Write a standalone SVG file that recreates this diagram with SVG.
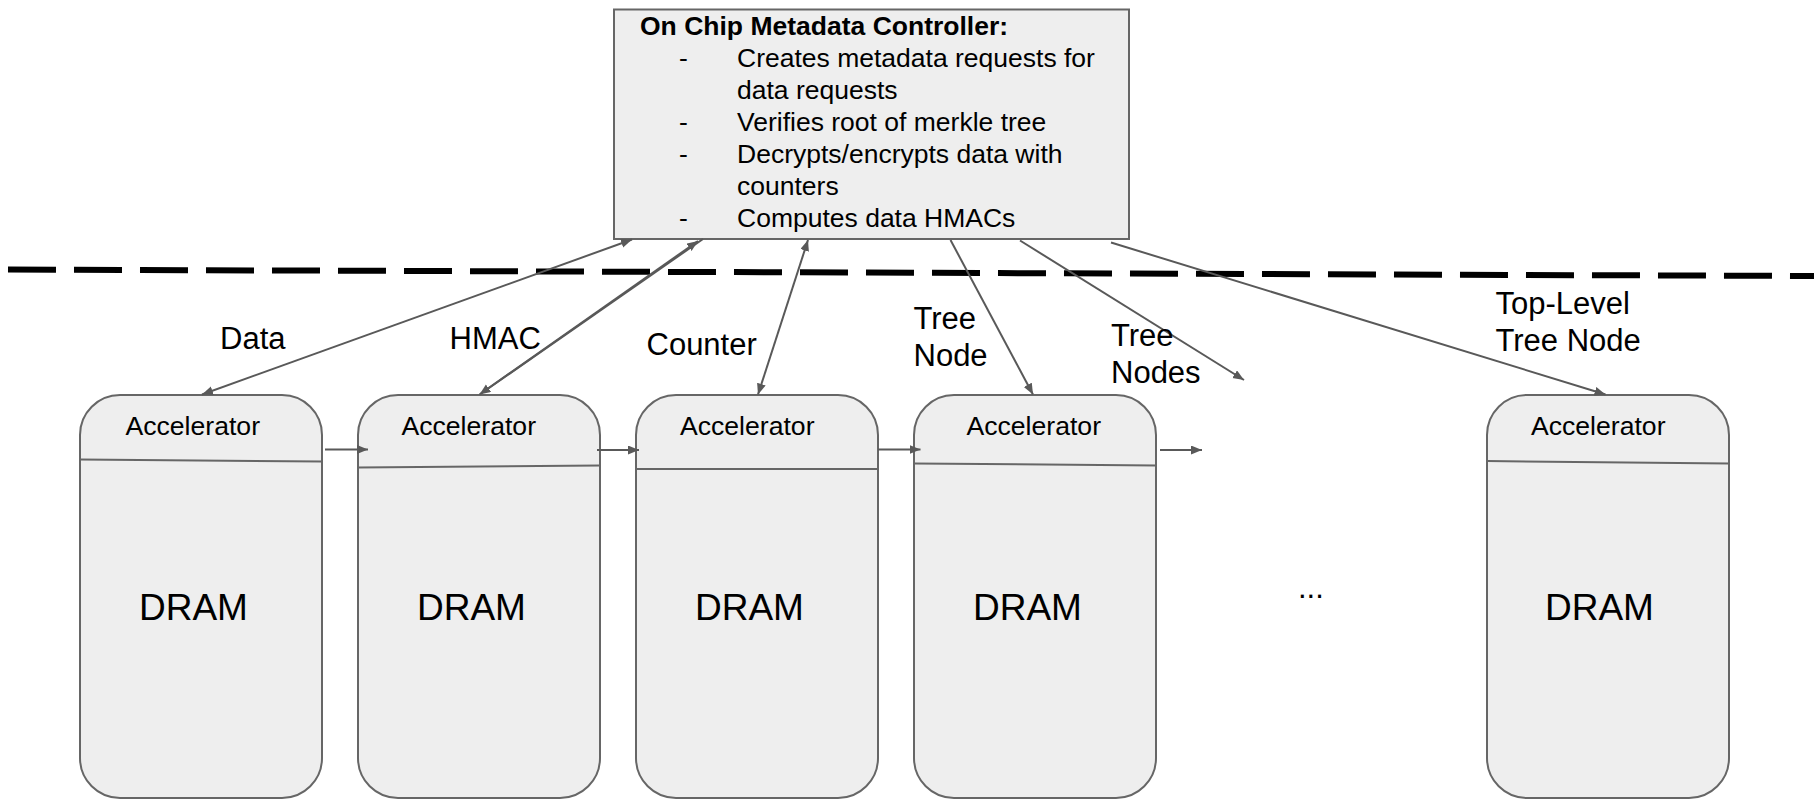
<svg xmlns="http://www.w3.org/2000/svg" width="1814" height="799" viewBox="0 0 1814 799">
<style>
.box{fill:#eeeeee;stroke:#666666;stroke-width:2}
.div{stroke:#666666;stroke-width:2;fill:none}
.con{stroke:#595959;stroke-width:2;fill:none}
.t{font-family:"Liberation Sans",Arial,sans-serif;fill:#000000}
.ctl{font-size:26.5px}
.acc{font-size:26.6px}
.dram{font-size:37px}
.lbl{font-size:31px}
</style>
<defs>
<marker id="ah" markerUnits="userSpaceOnUse" markerWidth="12" markerHeight="10" refX="11" refY="4.5" orient="auto-start-reverse">
<path d="M0,0 L11,4.5 L0,9 z" fill="#595959"/>
</marker>
</defs>
<rect width="1814" height="799" fill="#ffffff"/>

<g id="boundary">
<line x1="8" y1="269.5" x2="1814" y2="276" stroke="#000000" stroke-width="6" stroke-dasharray="48 18"/>
</g>

<g id="controller">
<rect class="box" x="614" y="9.5" width="515" height="229.5"/>
<text class="t ctl" x="640" y="35" font-weight="bold">On Chip Metadata Controller:</text>
<text class="t ctl" x="679" y="67">-</text>
<text class="t ctl" x="737" y="67">Creates metadata requests for</text>
<text class="t ctl" x="737" y="99">data requests</text>
<text class="t ctl" x="679" y="131">-</text>
<text class="t ctl" x="737" y="131">Verifies root of merkle tree</text>
<text class="t ctl" x="679" y="163">-</text>
<text class="t ctl" x="737" y="163">Decrypts/encrypts data with</text>
<text class="t ctl" x="737" y="195">counters</text>
<text class="t ctl" x="679" y="227">-</text>
<text class="t ctl" x="737" y="227">Computes data HMACs</text>
</g>

<g id="node1">
<rect class="box" x="80" y="395" width="242" height="403" rx="40" ry="40"/>
<line class="div" x1="80" y1="459.5" x2="322" y2="461.5"/>
<text class="t acc" x="125.5" y="435">Accelerator</text>
<text class="t dram" x="139" y="620">DRAM</text>
</g>
<g id="node2">
<rect class="box" x="358" y="395" width="242" height="403" rx="40" ry="40"/>
<line class="div" x1="358" y1="467.5" x2="600" y2="465.5"/>
<text class="t acc" x="401.5" y="435">Accelerator</text>
<text class="t dram" x="417" y="620">DRAM</text>
</g>
<g id="node3">
<rect class="box" x="636" y="395" width="242" height="403" rx="40" ry="40"/>
<line class="div" x1="636" y1="469" x2="878" y2="469"/>
<text class="t acc" x="680" y="435">Accelerator</text>
<text class="t dram" x="695" y="620">DRAM</text>
</g>
<g id="node4">
<rect class="box" x="914" y="395" width="242" height="403" rx="40" ry="40"/>
<line class="div" x1="914" y1="463.5" x2="1156" y2="465.5"/>
<text class="t acc" x="966.5" y="435">Accelerator</text>
<text class="t dram" x="973" y="620">DRAM</text>
</g>
<g id="node5">
<rect class="box" x="1487" y="395" width="242" height="403" rx="40" ry="40"/>
<line class="div" x1="1487" y1="461" x2="1729" y2="463.5"/>
<text class="t acc" x="1531" y="435">Accelerator</text>
<text class="t dram" x="1545" y="620">DRAM</text>
</g>

<g id="ellipsis">
<text class="t lbl" x="1298" y="598">...</text>
</g>

<g id="connectors">
<line class="con" x1="632" y1="239.5" x2="202" y2="394.5" marker-start="url(#ah)" marker-end="url(#ah)"/>
<line class="con" x1="703" y1="239" x2="481" y2="393.5"/>
<line class="con" x1="698" y1="241" x2="479.5" y2="394.5" marker-start="url(#ah)" marker-end="url(#ah)"/>
<line class="con" x1="808" y1="240" x2="758" y2="394.5" marker-start="url(#ah)" marker-end="url(#ah)"/>
<line class="con" x1="950.5" y1="240" x2="1033" y2="394.5" marker-end="url(#ah)"/>
<line class="con" x1="1020" y1="240.5" x2="1244" y2="380" marker-end="url(#ah)"/>
<line class="con" x1="1111" y1="242.5" x2="1605.5" y2="394.5" marker-end="url(#ah)"/>
<line class="con" x1="325" y1="449.5" x2="368" y2="449.5" marker-end="url(#ah)"/>
<line class="con" x1="597" y1="450" x2="639" y2="450" marker-end="url(#ah)"/>
<line class="con" x1="878" y1="449.5" x2="920.5" y2="449.5" marker-end="url(#ah)"/>
<line class="con" x1="1160" y1="450" x2="1202" y2="450" marker-end="url(#ah)"/>
</g>

<g id="labels">
<text class="t lbl" x="220" y="349">Data</text>
<text class="t lbl" x="449.5" y="348.5">HMAC</text>
<text class="t lbl" x="646.5" y="354.5">Counter</text>
<text class="t lbl" x="913.5" y="329">Tree</text>
<text class="t lbl" x="913.5" y="366">Node</text>
<text class="t lbl" x="1111" y="346">Tree</text>
<text class="t lbl" x="1111" y="383">Nodes</text>
<text class="t lbl" x="1495.5" y="314">Top-Level</text>
<text class="t lbl" x="1495.5" y="351">Tree Node</text>
</g>
</svg>
